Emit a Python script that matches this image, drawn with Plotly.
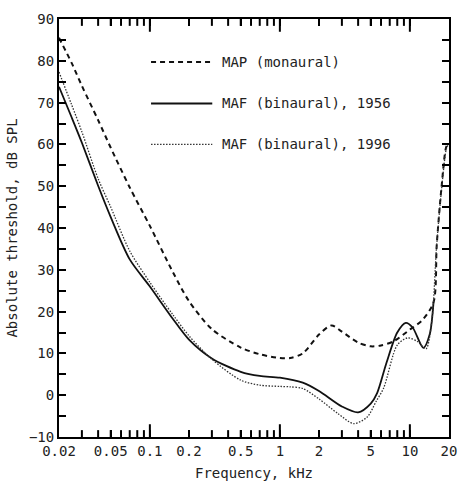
import numpy as np
import plotly.graph_objects as go

# ---- data (frequency in kHz, threshold in dB SPL) ----
map_f = [0.02, 0.025, 0.03, 0.04, 0.05, 0.07, 0.1, 0.15, 0.2, 0.3, 0.5, 0.7, 1.0, 1.2,
         1.5, 2.0, 2.5, 3.0, 4.0, 5.0, 6.0, 7.5, 10.0, 12.5, 15.2, 16.1, 17.5, 19.1, 19.8]
map_y = [85.5, 79.5, 74.0, 65.8, 59.2, 49.7, 40.5, 29.5, 22.5, 15.8, 11.4, 9.8, 8.9, 8.9,
         10.0, 14.5, 16.7, 15.2, 12.6, 11.7, 11.9, 12.9, 15.7, 18.0, 22.2, 36.0, 49.6, 59.5, 60.0]

maf56_f = [0.02, 0.025, 0.03, 0.04, 0.05, 0.07, 0.1, 0.15, 0.2, 0.3, 0.5, 0.7, 1.0, 1.5,
           2.0, 3.0, 4.0, 5.0, 5.6, 6.6, 8.0, 9.3, 10.5, 12.7, 14.2, 15.2]
maf56_y = [73.8, 66.5, 60.4, 50.1, 42.6, 32.5, 26.0, 18.3, 13.3, 8.8, 5.6, 4.6, 4.2, 3.0,
           1.0, -2.7, -4.1, -2.0, 0.5, 7.7, 15.0, 17.3, 16.2, 11.3, 14.5, 22.2]

maf96_f = [0.02, 0.025, 0.03, 0.04, 0.05, 0.07, 0.1, 0.15, 0.2, 0.3, 0.5, 0.7, 1.0, 1.2,
           1.5, 2.0, 2.8, 3.7, 4.7, 5.5, 6.3, 8.0, 9.6, 11.5, 13.3, 14.8, 16.0, 17.5, 19.1, 19.8]
maf96_y = [77.3, 69.5, 63.0, 51.8, 45.0, 34.5, 27.0, 19.3, 14.2, 8.6, 3.6, 2.4, 2.1, 2.0,
           1.6, -0.9, -4.4, -6.8, -5.2, -1.5, 1.8, 12.0, 13.7, 12.8, 11.1, 18.2, 35.0, 49.0, 59.0, 60.0]

x_label_vals = [0.02, 0.05, 0.1, 0.2, 0.5, 1, 2, 5, 10, 20]
x_label_text = ["0.02", "0.05", "0.1", "0.2", "0.5", "1", "2", "5", "10", "20"]
x_minor_vals = [0.03, 0.04, 0.06, 0.07, 0.08, 0.09, 0.3, 0.4, 0.6, 0.7, 0.8, 0.9,
                3, 4, 6, 7, 8, 9]
x_decades = [0.1, 1, 10]
y_tick_vals = [-10, -5, 0, 5, 10, 15, 20, 25, 30, 35, 40, 45, 50, 55, 60, 65, 70, 75, 80, 85, 90]
y_tick_text = ["\u221210", "", "0", "", "10", "", "20", "", "30", "", "40", "", "50", "", "60", "", "70", "", "80", "", "90"]

legend_labels = ["MAP (monaural)", "MAF (binaural), 1956", "MAF (binaural), 1996"]

FONT = "DejaVu Sans Mono"
INK = "#111111"

dash_map = "5px,4px"
dash_96 = "1.5px,1.5px"

PLOT_H = 494 - 11 - 57  # plot-area height in px

# logarithmic frequency scale: positions are log10(kHz) on a linear axis
lg = lambda v: [float(t) for t in np.log10(np.asarray(v, dtype=float))]

fig = go.Figure()
fig.add_trace(go.Scatter(x=lg(map_f), y=map_y, mode="lines", line=dict(color=INK, width=2, dash=dash_map, shape="spline", smoothing=0.8), showlegend=False))
fig.add_trace(go.Scatter(x=lg(maf56_f), y=maf56_y, mode="lines", line=dict(color=INK, width=1.8, shape="spline", smoothing=0.8), showlegend=False))
fig.add_trace(go.Scatter(x=lg(maf96_f), y=maf96_y, mode="lines", line=dict(color="#333333", width=1.3, dash=dash_96, shape="spline", smoothing=0.8), showlegend=False))

# x-axis tick marks (inside, bottom and top), decades longer
tick_specs = [(v, 7) for v in x_label_vals[1:-1] if v not in x_decades] + \
             [(v, 7) for v in x_minor_vals] + [(v, 13) for v in x_decades]
for v, ln in tick_specs:
    xv = float(np.log10(v))
    h = ln / PLOT_H
    fig.add_shape(type="line", xref="x", yref="paper", x0=xv, x1=xv, y0=0, y1=h,
                  line=dict(color="black", width=2), layer="above")
    fig.add_shape(type="line", xref="x", yref="paper", x0=xv, x1=xv, y0=1, y1=1 - h,
                  line=dict(color="black", width=2), layer="above")

# legend drawn as annotations + sample lines (paper coords)
leg_y = [0.897, 0.798, 0.700]
leg_styles = [dict(color=INK, width=2, dash=dash_map), dict(color=INK, width=2), dict(color="#333333", width=1.3, dash=dash_96)]
x0, x1, xt = 0.236, 0.393, 0.414
for lab, yy, st in zip(legend_labels, leg_y, leg_styles):
    fig.add_shape(type="line", xref="paper", yref="paper", x0=x0, x1=x1, y0=yy, y1=yy, line=st)
    fig.add_annotation(text=lab, xref="paper", yref="paper", x=xt, y=yy, xanchor="left", yanchor="middle",
                       showarrow=False, font=dict(family=FONT, size=14, color="#222222"))

fig.update_layout(
    width=468, height=494,
    margin=dict(l=59, r=15, t=11, b=57),
    paper_bgcolor="white", plot_bgcolor="white",
    font=dict(family=FONT, size=14, color="#222222"),
    xaxis=dict(range=[float(np.log10(0.02)), float(np.log10(20))], showgrid=False, zeroline=False,
               tickvals=lg(x_label_vals), ticktext=x_label_text, ticks="inside", ticklen=7, tickwidth=1.5,
               tickcolor="black", showline=True, linecolor="black", linewidth=2, mirror="ticks",
               title=dict(text="Frequency, kHz", standoff=10, font=dict(size=14)),
               tickfont=dict(size=14)),
    yaxis=dict(range=[-10, 90], showgrid=False, zeroline=False,
               tickvals=y_tick_vals, ticktext=y_tick_text,
               ticks="inside", ticklen=7, tickwidth=1.5, tickcolor="black", showline=True, linecolor="black",
               linewidth=2, mirror="ticks",
               title=dict(text="Absolute threshold, dB SPL", standoff=8, font=dict(size=14)),
               tickfont=dict(size=14)),
)

fig.write_html("out.html")
